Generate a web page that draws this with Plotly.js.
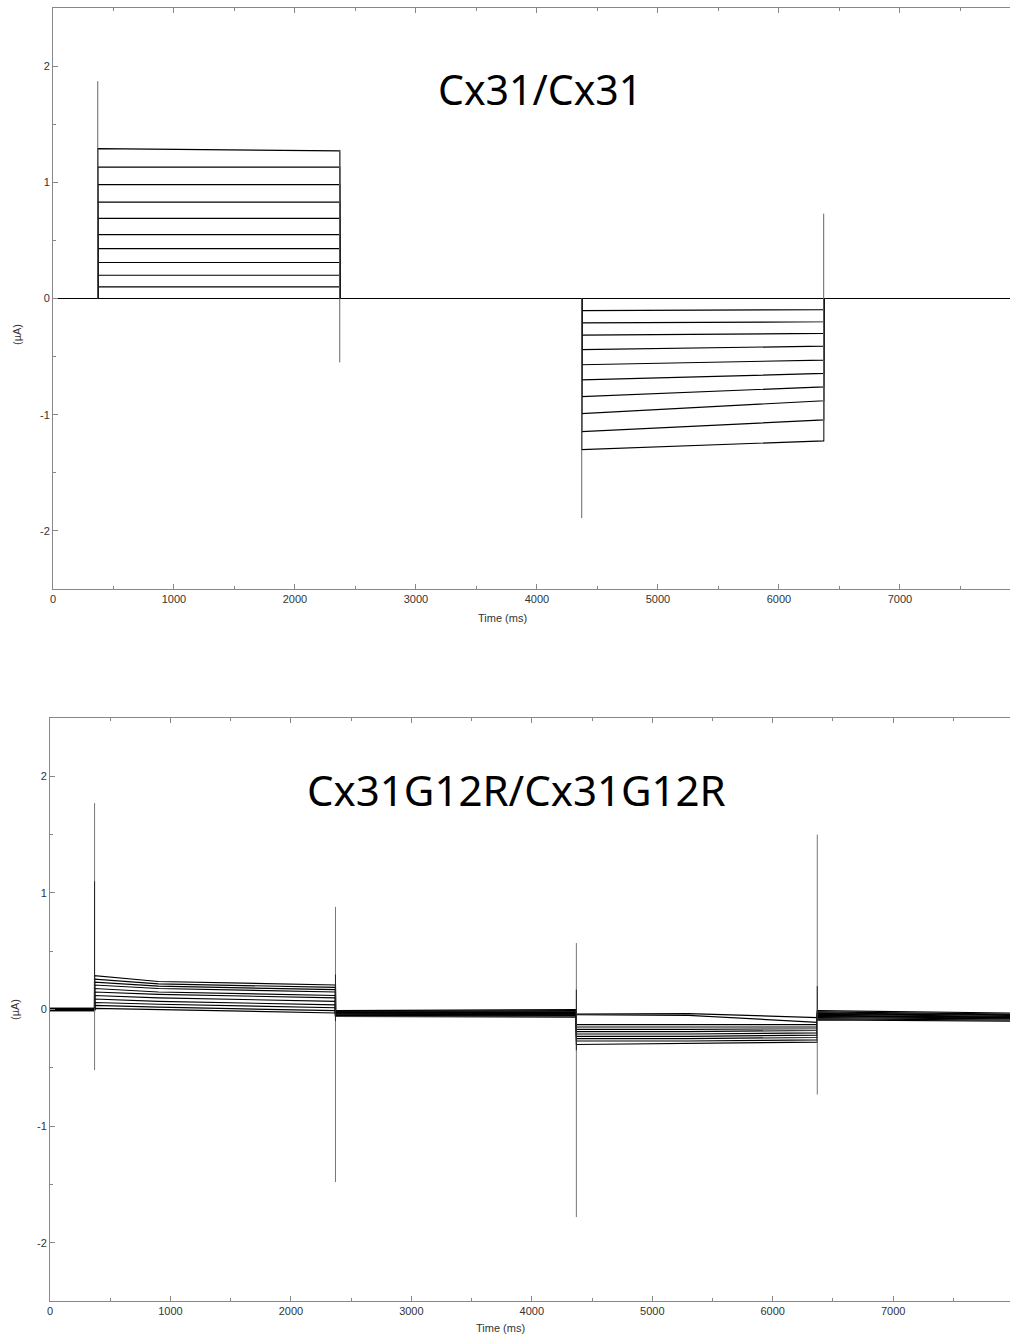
<!DOCTYPE html>
<html>
<head>
<meta charset="utf-8">
<script src="https://cdn.plot.ly/plotly-3.0.1.min.js"></script>
<style>html,body{margin:0;padding:0;background:#fff;}#chart{width:1010px;height:1335px;}</style>
</head>
<body>
<div id="chart"></div>
<script>
// ---------- DATA ----------
// step transition times (ms)
const stepTimes = [370, 2370, 4370, 6370];
const topEndTime = 7910;
const botEndTime = 7970;

// Top panel: Cx31/Cx31 (11 sweeps), current in µA
const topPosStart = [1.29, 1.13, 0.98, 0.83, 0.69, 0.55, 0.43, 0.31, 0.20, 0.10, 0.00];
const topPosEnd   = [1.27, 1.13, 0.98, 0.83, 0.69, 0.55, 0.43, 0.31, 0.20, 0.10, 0.00];
const topNegStart = [0.00, -0.105, -0.21, -0.315, -0.44, -0.57, -0.70, -0.845, -0.99, -1.145, -1.30];
const topNegEnd   = [0.00, -0.095, -0.20, -0.30, -0.41, -0.53, -0.645, -0.76, -0.88, -1.045, -1.225];
const topBase     = [0.00, 0.00, 0.00, 0.00, 0.00, 0.00, 0.00, 0.00, 0.00, 0.00, 0.00];
const topSpikeHi  = [1.87, 1.28, 0.00, 0.73];
const topSpikeLo  = [0.00, -0.55, -1.89, -1.22];

// Bottom panel: Cx31G12R/Cx31G12R (11 sweeps)
const botMidTimes  = [900, 5300];
const botPre       = [0.00, 0.00, 0.01, 0.00, -0.01, 0.00, 0.01, 0.00, -0.01, 0.00, 0.00];
const botPosStart  = [0.29, 0.26, 0.235, 0.21, 0.18, 0.15, 0.12, 0.09, 0.06, 0.035, 0.01];
const botPosMid    = [0.24, 0.22, 0.20, 0.18, 0.15, 0.13, 0.10, 0.07, 0.045, 0.02, 0.00];
const botPosEnd    = [0.21, 0.19, 0.17, 0.15, 0.12, 0.10, 0.07, 0.04, 0.015, -0.01, -0.03];
const botGapStart  = [-0.01, -0.015, -0.02, -0.025, -0.03, -0.03, -0.035, -0.04, -0.045, -0.05, -0.06];
const botGapEnd    = [0.00, -0.01, -0.02, -0.025, -0.03, -0.035, -0.04, -0.045, -0.05, -0.055, -0.065];
const botNegStart  = [-0.04, -0.045, -0.13, -0.15, -0.17, -0.19, -0.21, -0.23, -0.25, -0.27, -0.30];
const botNegMid    = [-0.035, -0.05, -0.13, -0.15, -0.17, -0.19, -0.21, -0.23, -0.25, -0.27, -0.29];
const botNegEnd    = [-0.07, -0.11, -0.13, -0.15, -0.165, -0.18, -0.20, -0.22, -0.24, -0.26, -0.28];
const botTailStart = [-0.01, -0.02, -0.03, -0.035, -0.04, -0.05, -0.055, -0.06, -0.07, -0.08, -0.09];
const botTailEnd   = [-0.03, -0.04, -0.045, -0.05, -0.06, -0.065, -0.07, -0.075, -0.08, -0.09, -0.10];
const botSpikeHi   = [1.77, 0.88, 0.57, 1.50];
const botSpikeLo   = [-0.52, -1.48, -1.78, -0.73];
const botSpikeDarkHi = [1.10, 0.30, 0.17, 0.20];
const botSpikeDarkLo = [0.00, -0.10, -0.35, -0.10];

const titles = ["Cx31/Cx31", "Cx31G12R/Cx31G12R"];
const xTickVals = [0, 1000, 2000, 3000, 4000, 5000, 6000, 7000];
const xTickText = ['0', '1000', '2000', '3000', '4000', '5000', '6000', '7000'];
const yTickVals = [-2, -1, 0, 1, 2];
const yTickText = ['-2', '-1', '0', '1', '2'];

// ---------- TRACES ----------
const traces = [];
const T = stepTimes;
const LW = 1.2;
for (let i = 0; i < topPosStart.length; i++) {
  traces.push({
    type: 'scatter', mode: 'lines', xaxis: 'x', yaxis: 'y', hoverinfo: 'skip',
    x: [0, T[0], T[0], T[1], T[1], T[2], T[2], T[3], T[3], topEndTime],
    y: [topBase[i], topBase[i], topPosStart[i], topPosEnd[i], topBase[i], topBase[i], topNegStart[i], topNegEnd[i], topBase[i], topBase[i]],
    line: {color: '#000', width: LW}
  });
}
for (let k = 0; k < T.length; k++) {
  traces.push({
    type: 'scatter', mode: 'lines', xaxis: 'x', yaxis: 'y', hoverinfo: 'skip',
    x: [T[k], T[k]], y: [topSpikeLo[k], topSpikeHi[k]],
    line: {color: '#666', width: 1}
  });
}
for (let i = 0; i < botPosStart.length; i++) {
  traces.push({
    type: 'scatter', mode: 'lines', xaxis: 'x2', yaxis: 'y2', hoverinfo: 'skip',
    x: [0, T[0], T[0], botMidTimes[0], T[1], T[1], T[2], T[2], botMidTimes[1], T[3], T[3], botEndTime],
    y: [botPre[i], botPre[i], botPosStart[i], botPosMid[i], botPosEnd[i], botGapStart[i], botGapEnd[i], botNegStart[i], botNegMid[i], botNegEnd[i], botTailStart[i], botTailEnd[i]],
    line: {color: '#000', width: LW}
  });
}
for (let k = 0; k < T.length; k++) {
  traces.push({
    type: 'scatter', mode: 'lines', xaxis: 'x2', yaxis: 'y2', hoverinfo: 'skip',
    x: [T[k], T[k]], y: [botSpikeLo[k], botSpikeHi[k]],
    line: {color: '#777', width: 1}
  });
  traces.push({
    type: 'scatter', mode: 'lines', xaxis: 'x2', yaxis: 'y2', hoverinfo: 'skip',
    x: [T[k], T[k]], y: [botSpikeDarkLo[k], botSpikeDarkHi[k]],
    line: {color: '#222', width: 1}
  });
}

// ---------- LAYOUT ----------
const tickFont = {family: 'Liberation Sans, Arial, sans-serif', size: 11, color: '#333'};
function xAxis(domain, range, anchor) {
  return {
    domain: domain, range: range, anchor: anchor, showgrid: false, zeroline: false,
    showline: true, linecolor: '#888', linewidth: 1, mirror: 'allticks',
    ticks: 'inside', ticklen: 5, tickcolor: '#888', tickwidth: 1,
    tickmode: 'array', tickvals: xTickVals, ticktext: xTickText, tickfont: tickFont,
    minor: {dtick: 500, tick0: 0, ticks: 'inside', ticklen: 3, tickcolor: '#888', showgrid: false},
    fixedrange: true
  };
}
function yAxis(domain, anchor) {
  return {
    domain: domain, range: [-2.5, 2.5], anchor: anchor, showgrid: false, zeroline: false,
    showline: true, linecolor: '#888', linewidth: 1,
    ticks: 'inside', ticklen: 5, tickcolor: '#888', tickwidth: 1,
    tickmode: 'array', tickvals: yTickVals, ticktext: yTickText, tickfont: tickFont,
    minor: {dtick: 0.5, tick0: 0, ticks: 'inside', ticklen: 3, tickcolor: '#888', showgrid: false},
    fixedrange: true
  };
}
const W = 1010, H = 1335;
const titleFont = {family: 'Noto Sans, Open Sans, sans-serif', size: 41, color: '#000'};
const titleFont2 = {family: 'Noto Sans, Open Sans, sans-serif', size: 42, color: '#000'};
const labelFont = {family: 'Liberation Sans, Arial, sans-serif', size: 11, color: '#333'};
const layout = {
  width: W, height: H,
  margin: {l: 0, r: 0, t: 0, b: 0},
  paper_bgcolor: '#fff', plot_bgcolor: '#fff',
  showlegend: false,
  xaxis: xAxis([53 / W, 1], [0, topEndTime], 'y'),
  yaxis: yAxis([1 - 589 / H, 1 - 8 / H], 'x'),
  xaxis2: xAxis([50 / W, 1], [0, botEndTime], 'y2'),
  yaxis2: yAxis([1 - 1301 / H, 1 - 718 / H], 'x2'),
  annotations: [
    {text: titles[0], xref: 'x', yref: 'y', x: 4025, y: 1.80, showarrow: false, font: titleFont, xanchor: 'center', yanchor: 'middle'},
    {text: titles[1], xref: 'x2', yref: 'y2', x: 3869, y: 1.89, showarrow: false, font: titleFont2, xanchor: 'center', yanchor: 'middle'},
    {text: '(µA)', xref: 'paper', yref: 'paper', x: 17 / W, y: 1 - 335 / H, showarrow: false, textangle: -90, font: labelFont, xanchor: 'center', yanchor: 'middle'},
    {text: '(µA)', xref: 'paper', yref: 'paper', x: 15 / W, y: 1 - 1010 / H, showarrow: false, textangle: -90, font: labelFont, xanchor: 'center', yanchor: 'middle'},
    {text: 'Time (ms)', xref: 'paper', yref: 'paper', x: 502 / W, y: 1 - 618 / H, showarrow: false, font: labelFont, xanchor: 'center', yanchor: 'middle'},
    {text: 'Time (ms)', xref: 'paper', yref: 'paper', x: 500 / W, y: 1 - 1328 / H, showarrow: false, font: labelFont, xanchor: 'center', yanchor: 'middle'}
  ]
};
Plotly.newPlot('chart', traces, layout, {displayModeBar: false, staticPlot: true});
</script>
</body>
</html>
